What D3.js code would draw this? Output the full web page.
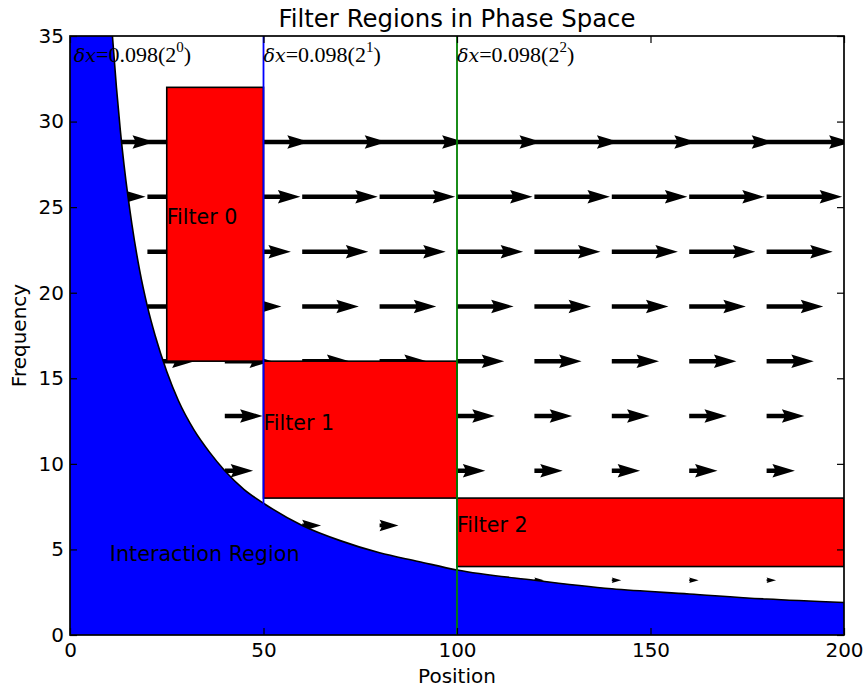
<!DOCTYPE html>
<html>
<head>
<meta charset="utf-8">
<script src="https://cdn.jsdelivr.net/npm/d3@7"></script>
<style>
  body { margin: 0; background: #fff; }
  text { font-family: "DejaVu Sans", sans-serif; }
</style>
</head>
<body>
<svg id="PhaseChart" width="867" height="692"></svg>
<script>
// quiver grid: positions (columns) and frequencies (rows)
const positions = [0, 20, 40, 60, 80, 100, 120, 140, 160, 180];
const frequencies = [3.2, 6.4, 9.6, 12.8, 16.0, 19.2, 22.4, 25.6, 28.8];

// edge of the interaction region
const edgeX = [10, 11, 12, 13, 14, 16, 18, 20, 22, 25, 28, 32, 36, 40, 45, 50, 60, 70, 80, 90, 100, 120, 140, 160, 180, 200];
const edgeY = [38.4, 34.9, 32.0, 29.5, 27.4, 24.0, 21.3, 19.2, 17.5, 15.4, 13.7, 12.0, 10.7, 9.6, 8.5, 7.7, 6.4, 5.5, 4.8, 4.3, 3.8, 3.2, 2.7, 2.4, 2.1, 1.9];

// filter boxes
const filterNames = ['Filter 0', 'Filter 1', 'Filter 2'];
const filterStart = [25, 50, 100];
const filterEnd = [50, 100, 200];
const filterLow = [16, 8, 4];
const filterHigh = [32, 16, 8];
const filterLabelY = [24, 12, 6];

// window boundaries and their step labels
const windowX = [50, 100];
const stepLabelX = [1, 50, 100];
const stepPowers = ['0', '1', '2'];
const stepBase = '0.098';

const xTicks = [0, 50, 100, 150, 200];
const yTicks = [0, 5, 10, 15, 20, 25, 30, 35];

const mLeft = 70, mRight = 844, mTop = 36, mBottom = 635;

const svg = d3.select('#PhaseChart');

let xScale = d3.scaleLinear().domain([0, 200]).range([mLeft, mRight]);
let yScale = d3.scaleLinear().domain([0, 35]).range([mBottom, mTop]);
// arrow length in pixels for a given frequency
let lenScale = d3.scaleLinear().domain([0, 28.8]).range([0, 85]);

svg.append('defs').append('clipPath').attr('id', 'plotClip')
  .append('rect')
  .attr('x', mLeft).attr('y', mTop)
  .attr('width', mRight - mLeft).attr('height', mBottom - mTop);

const plot = svg.append('g').attr('clip-path', 'url(#plotClip)');

// matplotlib style quiver arrow, sizes in shaft widths
function arrowPath(L) {
  const w = 4.5, hl = 5, hal = 4.5, hw = 3;
  const n = L / w;
  let xs, ys;
  if (n < hl) {
    const s = n / hl;
    xs = [0, hl - hal, 0, hl].map(v => v * s);
    ys = [0.5, 0.5, hw / 2, 0].map(v => v * s);
  } else {
    xs = [0, n - hal, n - hl, n];
    ys = [0.5, 0.5, hw / 2, 0];
  }
  const idx = [0, 1, 2, 3, 2, 1, 0];
  const pts = idx.map((k, i) => [xs[k] * w, (i > 3 ? -ys[k] : ys[k]) * w]);
  return 'M' + pts.map(p => p.join(',')).join('L') + 'Z';
}

// arrows go first so the other regions sit on top
let arrows = [];
frequencies.forEach(f => positions.forEach(p => arrows.push({ x: p, y: f })));

plot.append('g').selectAll('path').data(arrows).join('path')
  .attr('transform', d => `translate(${xScale(d.x)},${yScale(d.y)})`)
  .attr('d', d => arrowPath(lenScale(d.y)))
  .attr('fill', '#000');

// interaction region
const edge = edgeX.map((x, i) => [x, edgeY[i]]);

let area = d3.area()
  .x(d => xScale(d[0]))
  .y0(yScale(0))
  .y1(d => yScale(d[1]))
  .curve(d3.curveMonotoneX);

plot.append('path').datum([[0, edgeY[0]]].concat(edge))
  .attr('d', area)
  .attr('fill', '#0000ff');

plot.append('path').datum(edge)
  .attr('d', d3.line().x(d => xScale(d[0])).y(d => yScale(d[1])).curve(d3.curveMonotoneX))
  .attr('fill', 'none')
  .attr('stroke', '#000')
  .attr('stroke-width', 1.6);

// filter boxes
plot.append('g').selectAll('rect').data(filterNames).join('rect')
  .attr('x', (d, i) => xScale(filterStart[i]))
  .attr('y', (d, i) => yScale(filterHigh[i]))
  .attr('width', (d, i) => xScale(filterEnd[i]) - xScale(filterStart[i]))
  .attr('height', (d, i) => yScale(filterLow[i]) - yScale(filterHigh[i]))
  .attr('fill', '#ff0000')
  .attr('stroke', '#000')
  .attr('stroke-width', 1.6);

// window lines
const lineColors = ['#0000ff', '#008000'];
plot.append('g').selectAll('line').data(windowX).join('line')
  .attr('x1', d => xScale(d)).attr('x2', d => xScale(d))
  .attr('y1', mTop).attr('y2', mBottom)
  .attr('stroke', (d, i) => lineColors[i])
  .attr('stroke-width', 1.8);

// labels inside the plot
plot.append('g').selectAll('text').data(filterNames).join('text')
  .attr('x', (d, i) => xScale(filterStart[i]))
  .attr('y', (d, i) => yScale(filterLabelY[i]))
  .style('font-size', '20.6px')
  .attr('fill', '#000')
  .text(d => d);

plot.append('text')
  .attr('x', xScale(10.3))
  .attr('y', yScale(4.3))
  .style('font-size', '20.7px')
  .attr('fill', '#000')
  .text('Interaction Region');

const stepText = plot.append('g').selectAll('text').data(stepPowers).join('text')
  .attr('x', (d, i) => xScale(stepLabelX[i]))
  .attr('y', yScale(33.5))
  .style('font-family', '"Liberation Serif", serif')
  .style('font-size', '22px')
  .attr('fill', '#000');
stepText.append('tspan').style('font-style', 'italic').style('font-family', '"DejaVu Serif", serif').style('font-size', '19px').text('\u03b4x');
stepText.append('tspan').text('=' + stepBase + '(2');
stepText.append('tspan').attr('dy', -10).style('font-size', '15px').text(d => d);
stepText.append('tspan').attr('dy', 10).text(')');

// axes, ticks pointing inwards on all sides
let xAxis = d3.axisBottom(xScale).tickValues(xTicks).tickSizeInner(-7).tickSizeOuter(0).tickPadding(8);
let yAxis = d3.axisLeft(yScale).tickValues(yTicks).tickSizeInner(-7).tickSizeOuter(0).tickPadding(6);
let xTop = d3.axisTop(xScale).tickValues(xTicks).tickSizeInner(-7).tickSizeOuter(0).tickFormat('');
let yRight = d3.axisRight(yScale).tickValues(yTicks).tickSizeInner(-7).tickSizeOuter(0).tickFormat('');

function styleAxis(g) {
  g.select('.domain').remove();
  g.selectAll('line').attr('stroke', '#000').attr('stroke-width', 1.2);
  g.selectAll('text').attr('fill', '#000').style('font-size', '20px')
    .style('font-family', '"DejaVu Sans", sans-serif');
}

svg.append('g').attr('transform', `translate(0,${mBottom})`).call(xAxis).call(styleAxis);
svg.append('g').attr('transform', `translate(${mLeft},0)`).call(yAxis).call(styleAxis);
svg.append('g').attr('transform', `translate(0,${mTop})`).call(xTop).call(styleAxis);
svg.append('g').attr('transform', `translate(${mRight},0)`).call(yRight).call(styleAxis);

svg.append('rect')
  .attr('x', mLeft).attr('y', mTop)
  .attr('width', mRight - mLeft).attr('height', mBottom - mTop)
  .attr('fill', 'none')
  .attr('stroke', '#000')
  .attr('stroke-width', 1.7);

// titles
svg.append('text')
  .attr('x', (mLeft + mRight) / 2)
  .attr('y', 27)
  .style('font-size', '24.4px')
  .style('text-anchor', 'middle')
  .attr('fill', '#000')
  .text('Filter Regions in Phase Space');

svg.append('text')
  .attr('x', (mLeft + mRight) / 2)
  .attr('y', 683)
  .style('font-size', '20px')
  .style('text-anchor', 'middle')
  .attr('fill', '#000')
  .text('Position');

svg.append('text')
  .attr('transform', `translate(26,${(mTop + mBottom) / 2}) rotate(-90)`)
  .style('font-size', '20px')
  .style('text-anchor', 'middle')
  .attr('fill', '#000')
  .text('Frequency');
</script>
</body>
</html>
